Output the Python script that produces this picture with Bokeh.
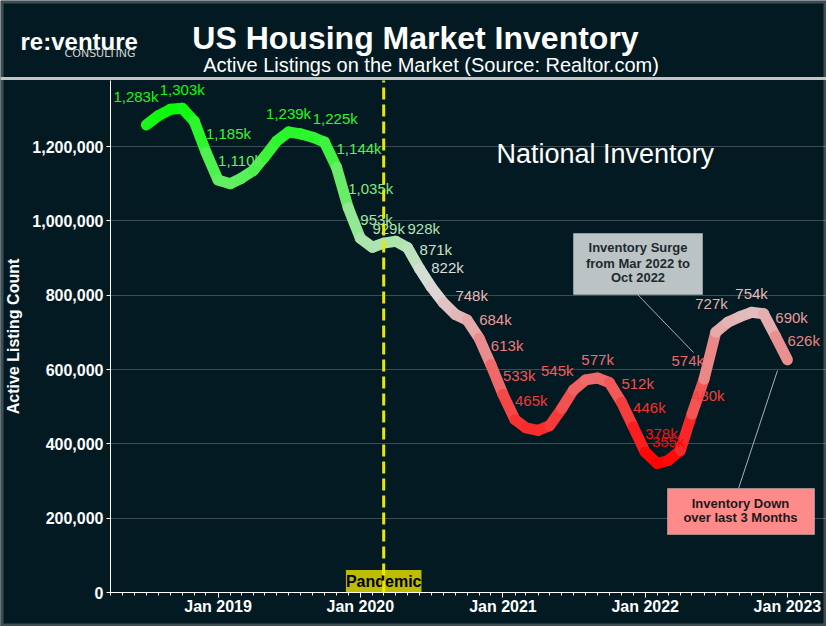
import pandas as pd
from bokeh.plotting import figure
from bokeh.models import (Range1d, FixedTicker, DatetimeTickFormatter, NumeralTickFormatter,
                          Label, BoxAnnotation, Arrow, ColumnDataSource)
from bokeh.core.properties import value
from bokeh.embed import file_html
from bokeh.resources import INLINE

# ---------------- data ----------------
months = pd.date_range("2018-07-01", "2023-01-01", freq="MS")
listings_k = [1258, 1283, 1300, 1303, 1268, 1185,
              1110, 1100, 1114, 1135, 1173, 1215, 1239, 1234, 1225, 1212, 1144, 1035,
              953, 929, 940, 945, 928, 871, 822, 780, 748, 733, 684, 613,
              533, 465, 443, 436, 449, 495, 545, 572, 577, 565, 512, 446,
              378, 347, 355, 382, 480, 574, 700, 727, 742, 754, 750, 690,
              626]
label_months = ["2018-08", "2018-10", "2018-12", "2019-01", "2019-07", "2019-09", "2019-11",
                "2019-12", "2020-01", "2020-02", "2020-05", "2020-06", "2020-07", "2020-09",
                "2020-11", "2020-12", "2021-01", "2021-02", "2021-07", "2021-09", "2021-11",
                "2021-12", "2022-01", "2022-03", "2022-05", "2022-06", "2022-08", "2022-10",
                "2022-12", "2023-01"]
label_align = ["right", "center", "left", "left", "center", "left", "left",
               "left", "left", "left", "left", "left", "left", "left",
               "left", "left", "left", "left", "right", "center", "left",
               "left", "left", "center", "left", "right", "right", "center",
               "left", "left"]
y_ticks = [0, 200000, 400000, 600000, 800000, 1000000, 1200000]
x_tick_years = ["2019-01-01", "2020-01-01", "2021-01-01", "2022-01-01", "2023-01-01"]
pandemic_date = "2020-03-01"
x_start, x_end = "2018-03-31", "2023-04-01"   # plotted date span
y_start, y_end = 0, 1377600                    # plotted value span

# ---------------- layout / style ----------------
W, H = 826, 626
PL, PR, PT, PB = 110, 822, 80, 592   # plot-area box in canvas pixels
BG = "#031a22"
EDGE = "#c4c4c4"
FONT = "Liberation Sans"
LOW, MID, HIGH = (255, 0, 0), (222, 222, 222), (10, 250, 10)


def ms(d):
    return pd.Timestamp(d).timestamp() * 1000.0


vals = [v * 1000 for v in listings_k]
vmin, vmax = min(vals), max(vals)


def ramp(v):
    t = (v - vmin) / (vmax - vmin)
    if t < 0.5:
        a, b, f = LOW, MID, t / 0.5
    else:
        a, b, f = MID, HIGH, (t - 0.5) / 0.5
    c = [round(a[i] + (b[i] - a[i]) * f) for i in range(3)]
    return "#%02x%02x%02x" % tuple(c)


# the frame covers the whole canvas; axes are pinned at the plot-area edges
xs0, xs1 = ms(x_start), ms(x_end)
dx = (xs1 - xs0) / (PR - PL)
dy = (y_end - y_start) / (PB - PT)
xr = Range1d(xs0 - PL * dx, xs1 + (W - PR) * dx)
yr = Range1d(y_start - (H - PB) * dy, y_end + PT * dy)

p = figure(width=W, height=H, x_axis_type="datetime", output_backend="svg",
           toolbar_location=None, x_range=xr, y_range=yr, min_border=0,
           background_fill_color=BG, border_fill_color=BG, outline_line_color=None)

p.xaxis.fixed_location = 0
p.yaxis.fixed_location = xs0
p.xaxis.bounds = (xs0, xs1)
p.yaxis.bounds = (y_start, y_end)
p.xaxis.ticker = FixedTicker(ticks=[ms(d) for d in x_tick_years],
                             minor_ticks=[ms(d) for d in pd.date_range("2018-04-01", "2023-03-01", freq="MS")])
p.xaxis.formatter = DatetimeTickFormatter(years="%b %Y", months="%b %Y", days="%b %Y",
                                          hours="%b %Y", minutes="%b %Y")
p.yaxis.ticker = FixedTicker(ticks=y_ticks)
p.yaxis.formatter = NumeralTickFormatter(format="0,0")
for ax in (p.xaxis[0], p.yaxis[0]):
    ax.axis_line_color = "white"
    ax.major_tick_line_color = "white"
    ax.major_label_text_color = "white"
    ax.major_label_text_font = FONT
    ax.major_label_text_font_style = "bold"
    ax.major_label_text_font_size = "16px"
p.yaxis.minor_tick_line_color = None
p.yaxis.major_tick_out = 4
p.yaxis.major_tick_in = 0
p.yaxis.major_label_standoff = 3
p.yaxis.axis_label = "Active Listing Count"
p.yaxis.axis_label_text_color = "white"
p.yaxis.axis_label_text_font = FONT
p.yaxis.axis_label_text_font_style = "bold"
p.yaxis.axis_label_text_font_size = "16px"
p.yaxis.axis_label_standoff = 7
p.xaxis.major_tick_out = 5
p.xaxis.major_tick_in = 0
p.xaxis.minor_tick_out = 3
p.xaxis.minor_tick_in = 0
p.xaxis.minor_tick_line_color = "white"
p.xaxis.major_label_standoff = 0
p.xgrid.grid_line_color = None
p.ygrid.grid_line_color = "#3c4c53"

# hide the grid outside the plot area (drawn right after the grid, below glyphs/axes)
p.add_layout(BoxAnnotation(left=0, right=PL - 0.5, top=PT - 1, bottom=H, left_units="canvas",
                           right_units="canvas", top_units="canvas", bottom_units="canvas",
                           fill_color=BG, fill_alpha=1, line_alpha=0, level="underlay"))

# pandemic dashed line + tag
p.segment(x0=[ms(pandemic_date)], y0=[y_start], x1=[ms(pandemic_date)], y1=[y_end],
          line_color="#e8e800", line_width=3, line_dash="12 5", level="overlay")
p.add_layout(Label(x=ms(pandemic_date), y=581, x_units="data", y_units="canvas", text="Pandemic",
                   text_align="center", text_baseline="middle", text_font=FONT,
                   text_font_style="bold", text_font_size="16px", text_color="black",
                   background_fill_color="#bcbc00", padding=(0, 3), level="glyph"))

# gradient line (segments coloured by value)
seg = ColumnDataSource(dict(
    x0=list(months[:-1]), x1=list(months[1:]), y0=vals[:-1], y1=vals[1:],
    c=[ramp((a + b) / 2) for a, b in zip(vals[:-1], vals[1:])]))
p.segment("x0", "y0", "x1", "y1", source=seg, line_color="c", line_width=11, line_cap="round")

# value labels
lookup = {m.strftime("%Y-%m"): v for m, v in zip(months, vals)}
for al in ("left", "center", "right"):
    xs, ys, ts, cs = [], [], [], []
    for m, a in zip(label_months, label_align):
        if a != al:
            continue
        v = lookup[m]
        xs.append(pd.Timestamp(m + "-01"))
        ys.append(v)
        ts.append(f"{round(v / 1000):,}k")
        cs.append(ramp(v))
    src = ColumnDataSource(dict(x=xs, y=ys, t=ts, c=cs))
    p.text("x", "y", text="t", source=src, text_color="c", text_align=al,
           text_baseline="middle", y_offset=-19, text_font=value(FONT),
           text_font_size="15px")

# in-plot title
p.add_layout(Label(x=496, y=153, x_units="canvas", y_units="canvas", text="National Inventory",
                   text_align="left", text_baseline="middle", text_font=FONT,
                   text_font_size="27px", text_color="white"))

# annotation boxes
p.add_layout(BoxAnnotation(left=573, right=702, top=233, bottom=294, left_units="canvas",
                           right_units="canvas", top_units="canvas", bottom_units="canvas",
                           fill_color="#bcc3c5", fill_alpha=1, line_color="white", line_width=1))
for txt, yy in (("Inventory Surge", 247.3), ("from Mar 2022 to", 262.7), ("Oct 2022", 277.3)):
    p.add_layout(Label(x=637.5, y=yy, x_units="canvas", y_units="canvas", text=txt,
                       text_align="center", text_baseline="middle", text_font=FONT,
                       text_font_style="bold", text_font_size="13px", text_color="#1c2a30"))
p.add_layout(Arrow(end=None, x_start=637, y_start=294, x_end=693, y_end=352,
                   start_units="canvas", end_units="canvas", line_color="#a9b1b4", line_width=1))

p.add_layout(BoxAnnotation(left=667, right=814, top=488, bottom=534, left_units="canvas",
                           right_units="canvas", top_units="canvas", bottom_units="canvas",
                           fill_color="#ff8a8a", fill_alpha=1, line_color="white", line_width=1))
for txt, yy in (("Inventory Down", 503.3), ("over last 3 Months", 517.3)):
    p.add_layout(Label(x=740, y=yy, x_units="canvas", y_units="canvas", text=txt,
                       text_align="center", text_baseline="middle", text_font=FONT,
                       text_font_style="bold", text_font_size="13px", text_color="#1a1a1a"))
p.add_layout(Arrow(end=None, x_start=738, y_start=488, x_end=777, y_end=370,
                   start_units="canvas", end_units="canvas", line_color="#a9b1b4", line_width=1))

# header
p.add_layout(Label(x=415, y=37.5, x_units="canvas", y_units="canvas",
                   text="US Housing Market Inventory", text_align="center",
                   text_baseline="alphabetic", text_font=FONT, text_font_style="bold",
                   text_font_size="32px", text_color="white"))
p.add_layout(Label(x=430.5, y=64, x_units="canvas", y_units="canvas",
                   text="Active Listings on the Market (Source: Realtor.com)", text_align="center",
                   text_baseline="alphabetic", text_font=FONT, text_font_size="20px",
                   text_color="white"))
p.add_layout(Label(x=20, y=41, x_units="canvas", y_units="canvas", text="re:venture",
                   text_align="left", text_baseline="alphabetic", text_font=FONT,
                   text_font_style="bold", text_font_size="24px", text_color="white"))
p.add_layout(Label(x=135, y=53, x_units="canvas", y_units="canvas", text="CONSULTING",
                   text_align="right", text_baseline="alphabetic", text_font="DejaVu Sans",
                   text_font_size="11px", text_color="#d0d0d0"))

# borders
p.add_layout(BoxAnnotation(left=0, right=W, top=76.5, bottom=79.5, left_units="canvas",
                           right_units="canvas", top_units="canvas", bottom_units="canvas",
                           fill_color=EDGE, fill_alpha=1, line_alpha=0))
p.add_layout(BoxAnnotation(left=1.5, right=W - 1.5, top=1.5, bottom=H - 1.5, left_units="canvas",
                           right_units="canvas", top_units="canvas", bottom_units="canvas",
                           fill_alpha=0, line_color=EDGE, line_width=3))

open("out.html", "w").write(file_html(p, INLINE))
